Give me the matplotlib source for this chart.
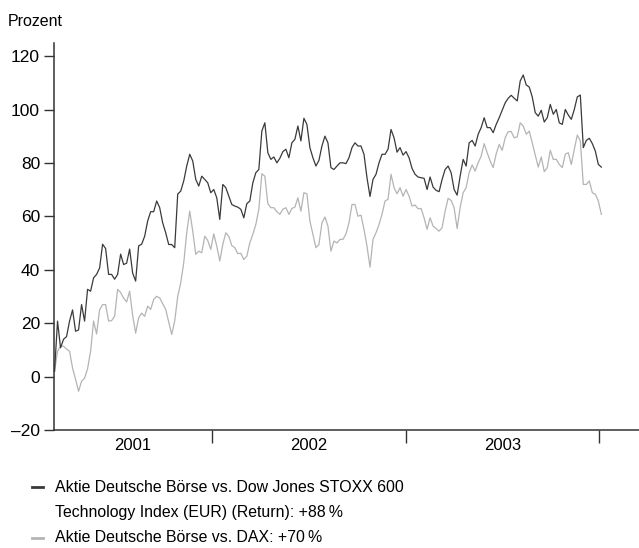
import pandas as pd
import matplotlib
matplotlib.use("Agg")
import matplotlib.pyplot as plt
from matplotlib.lines import Line2D

plt.rcParams['font.family'] = ['Liberation Sans', 'DejaVu Sans']

# Werte in Prozent, gelesen aus der Vorlage (ca. 5-6 Tage Abstand)
stoxx_tech = [
    2, 20.8, 10.8, 14, 15, 20.8, 25, 17, 17.5, 27, 20.8, 32.7, 32, 37, 38.3, 40.7,
    49.6, 48, 38.3, 38.3, 36.5, 38.3, 45.9, 42, 42.5, 47.8, 38.8, 35.8, 49, 49.6, 52.6,
    58.3, 61.8, 61.8, 65.8, 63.3, 57.6, 53.9, 49.5, 49.5, 48.3, 68.4, 69.5, 73.3, 78.9,
    83.3, 80.8, 73.9, 71.4, 75.1, 73.9, 72.6, 68.9, 70.1, 67, 58.9, 72, 70.8, 67.6, 64.5,
    63.9, 63.5,
    62.7, 59.5, 64.8, 65.8, 72.6, 76.4, 77.6, 92, 95.1, 83.9, 81.4, 82.3, 80.1, 81.8,
    84.3, 85.2, 82, 87.6, 88.9, 93.9, 88.3, 96.8, 94.5, 85.8, 82, 78.9, 81, 86.4, 90.1,
    87.6, 78.3,
    77.6, 78.9, 80.1, 80.1, 79.8, 82, 85.8, 87.6, 86.4, 86.4, 83.3, 74.5, 67.5, 73.9,
    75.8, 80.1, 83.3, 83.3, 85.2, 92.6, 89.5, 84.1, 85.8, 83, 84.3, 82, 78, 75.8, 74.8,
    74.5, 74.3,
    70.1, 74.8, 71, 69.8, 69.3, 73.9, 77.6, 78.9, 76.4, 70.1, 68, 75.1, 81.4, 78.9, 87.6,
    88.5, 86.4, 90.8, 93.3, 97, 93.3, 93.3, 91.4, 94.5, 97, 99.8, 102.6, 104.3, 105.4,
    104.3, 103.3, 110.8, 113,
    109.3, 108.5, 104.8, 98.9, 97.6, 99.8, 95.4, 97, 102, 98.3, 100.1, 95.1, 94.5, 100.1,
    98, 96.4, 100.1, 104.8, 105.5, 85.8, 88.5, 89.3, 87.3, 84.5, 79.5, 78.5,
]

dax = [
    2, 9.5, 11.4, 11.4, 10.3, 9.5, 3.2, -1, -5.5, -1.7, -0.6, 3, 9.5, 20.8, 16, 25, 27,
    27, 20.8, 21, 22.6, 32.7, 31.5, 29.4, 28, 32, 23, 16.3, 22, 23.8, 22.6,
    26.4, 25.2, 28.9, 30.1, 29.5, 27.3, 25.2, 20.5, 15.8, 20.8, 30.1, 35.1, 42.6, 53.9,
    62, 54.5, 45.8, 47, 46.4, 52.6, 51, 47.7, 53.5, 48.9, 43.3, 49.5, 53.9, 52.6, 49.1,
    48.3, 46.1,
    46.2, 43.9, 45.1, 50.1, 53.3, 57, 62.7, 76, 75.1, 64.8, 63.3, 63.3, 61.8, 60.8, 62.7,
    63.3, 60.8, 63, 63.5, 67, 62, 68.9, 68.5, 58.3, 53.3, 48.3, 49.5, 57.6, 59.8, 56.4, 47,
    50.8, 50.1, 51.4, 51.4, 53.5, 57.6, 64.5, 64.5, 60.1, 60.5, 55.2, 48.9, 41, 51.4, 53.9,
    57, 60.8, 65.8, 66.4, 75.8, 70.8, 68.5, 70.8, 67.6, 70.1, 67.6, 63.9, 64.3, 62.9, 63,
    59.5,
    55.2, 59.5, 56.4, 55.5, 54.5, 55.8, 62, 66.8, 66, 63.3, 55.5, 63.3, 68.9, 70.8, 76.4,
    79.3, 77, 80.1, 82.6, 87.3, 83.9, 80.8, 78.3, 83.5, 87, 84.8, 89.5, 91.8, 91.8, 89.5,
    89.8, 95.1, 93.9,
    90.8, 92, 87.6, 83, 78.5, 82.3, 76.8, 78.3, 84.8, 81.4, 81.4, 79.5, 78.3, 83.3, 83.9,
    79.5, 85.2, 90.5, 88.3, 72, 72, 73.3, 68.9, 68.3, 65.8, 60.8,
]

years = ["2001", "2002", "2003"]
y_ticks = [-20, 0, 20, 40, 60, 80, 100, 120]

legend_lines = [
    "Aktie Deutsche Börse vs. Dow Jones STOXX 600",
    "Technology Index (EUR) (Return): +88\u2009%",
    "Aktie Deutsche Börse vs. DAX: +70\u2009%",
]

dark = "#3a3a3a"
light = "#b4b4b4"

dates = pd.date_range("2001-03-10", "2004-01-05", periods=len(stoxx_tech))

fig = plt.figure(figsize=(6.39, 5.48), dpi=100)
ax = fig.add_axes([54 / 639, 1 - 430 / 548, 1 - 54 / 639, (430 - 43) / 548])

ax.plot(dates, dax, color=light, lw=0.9)
ax.plot(dates, stoxx_tech, color=dark, lw=0.9)

x_left = pd.Timestamp("2001-03-09")
x_right = pd.Timestamp("2004-03-16")
ax.set_xlim(x_left, x_right)
ax.set_ylim(-20, 125)

# Achsen
for s in ["top", "right"]:
    ax.spines[s].set_visible(False)
for s in ["left", "bottom"]:
    ax.spines[s].set_color("#333333")
    ax.spines[s].set_linewidth(1.1)

ax.set_yticks(y_ticks)
ax.set_yticklabels([f"{v:d}".replace("-", "\u2013") for v in y_ticks])
ax.tick_params(axis="y", direction="out", length=7, width=1, color="#333333",
               labelsize=12.5, pad=3)

year_starts = [pd.Timestamp(f"{y}-01-01") for y in (2002, 2003, 2004)]
ax.set_xticks(year_starts)
ax.set_xticklabels([])
ax.tick_params(axis="x", which="major", direction="out", length=9, width=1,
               color="#333333")
bounds = [x_left] + year_starts
mids = [bounds[i] + (bounds[i + 1] - bounds[i]) / 2 for i in range(3)]
ax.set_xticks(mids, minor=True)
ax.set_xticklabels(years, minor=True)
ax.tick_params(axis="x", which="minor", length=0, labelsize=12, pad=6)

fig.text(8 / 639, 1 - 22 / 548, "Prozent", fontsize=11.5, va="center", ha="left")

# Legende
fig.add_artist(Line2D([32 / 639, 43 / 639], [1 - 487 / 548] * 2, color=dark, lw=2))
fig.add_artist(Line2D([32 / 639, 43 / 639], [1 - 538 / 548] * 2, color=light, lw=2))
for text, ypix in zip(legend_lines, [487, 513, 538]):
    fig.text(55 / 639, 1 - ypix / 548, text, fontsize=11.4, ha="left", va="center")

fig.savefig("out.png", dpi=100)
